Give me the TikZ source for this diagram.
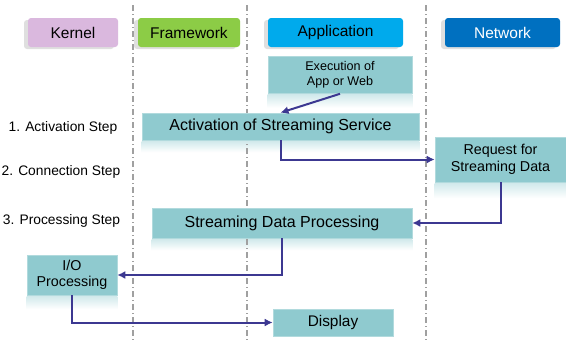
\documentclass[tikz,border=0pt]{standalone}
\usepackage{fontspec}
\setmainfont{Liberation Sans}
\usetikzlibrary{arrows.meta,shadows,backgrounds}
\definecolor{tealbox}{RGB}{143,202,207}
\definecolor{kernelc}{RGB}{218,184,222}
\definecolor{fwc}{RGB}{140,204,70}
\definecolor{appc}{RGB}{0,170,236}
\definecolor{netc}{RGB}{0,112,192}
\definecolor{flowc}{RGB}{60,56,145}
\definecolor{lanec}{RGB}{160,160,160}
\tikzset{
  header/.style={rectangle, rounded corners=3pt, minimum height=29pt, inner sep=0pt,
    font=\fontsize{15.5}{17}\selectfont,
    drop shadow={shadow xshift=-4pt, shadow yshift=-2pt, opacity=0.25, fill=gray}},
  stagebox/.style={rectangle, fill=tealbox, draw=tealbox!70!white, line width=0.6pt,
    inner sep=0pt, align=center},
  txs/.style={font=\fontsize{12.6}{15}\selectfont},
  txm/.style={font=\fontsize{14.3}{16.5}\selectfont},
  txl/.style={font=\fontsize{16}{18}\selectfont},
  steplabel/.style={font=\fontsize{13.8}{16}\selectfont, inner sep=0pt},
  lane/.style={lanec, line width=1.3pt, dash pattern=on 6pt off 3pt on 1pt off 3pt},
  flow/.style={flowc, line width=2pt, -{Latex[length=8pt,width=8pt]}},
  glow/.style={top color=tealbox!40, bottom color=white, draw=none}
}
\begin{document}
\begin{tikzpicture}[x=1pt,y=-1pt]
\useasboundingbox (0,0) rectangle (566,343);

% lane headers
\node[header, fill=kernelc, minimum width=90pt] (kernel) at (73,32.5) {Kernel};
\node[header, fill=fwc, minimum width=102pt] (framework) at (189,32.5) {Framework};
\node[header, fill=appc, minimum width=135pt] (application) at (335.5,32.5) {Application};
\node[header, fill=netc, text=white, minimum width=115pt] (network) at (502.5,32.5) {Network};

% step labels
\node[steplabel] (s1) at (63,128) {1. Activation Step};
\node[steplabel] (s2) at (61,172) {2. Connection Step};
\node[steplabel] (s3) at (61.5,221) {3. Processing Step};

% stage boxes
\node[stagebox, txs, minimum width=144pt, minimum height=37pt] (exec) at (340,75) {Execution of\\App or Web};
\node[stagebox, txl, minimum width=277pt, minimum height=27pt] (act) at (280.5,126.5) {Activation of Streaming Service};
\node[stagebox, txm, minimum width=131pt, minimum height=45pt] (req) at (500.5,159.5) {Request for\\Streaming Data};
\node[stagebox, txl, minimum width=260pt, minimum height=30pt] (proc) at (282,223) {Streaming Data Processing};
\node[stagebox, txm, minimum width=90pt, minimum height=40pt] (io) at (72,275) {I/O\\Processing};
\node[stagebox, font=\fontsize{15.4}{17}\selectfont, minimum width=120pt, minimum height=27pt] (disp) at (333,322.5) {Display};

% page background and soft reflections under the boxes
\begin{scope}[on background layer]
\fill[white] (0,0) rectangle (566,343);
\shade[glow] ([yshift=-1pt]exec.south west) rectangle ([yshift=-14pt]exec.south east);
\shade[glow] ([yshift=-1pt]act.south west) rectangle ([yshift=-12pt]act.south east);
\shade[glow] ([yshift=-1pt]req.south west) rectangle ([yshift=-16pt]req.south east);
\shade[glow] ([yshift=-1pt]proc.south west) rectangle ([yshift=-12pt]proc.south east);
\shade[glow] ([yshift=-1pt]io.south west) rectangle ([yshift=-14pt]io.south east);
% lane separators
\draw[lane] (133,5) -- (133,343);
\draw[lane] (247,5) -- (247,343);
\draw[lane] (426,5) -- (426,343);
\end{scope}

% control flow
\draw[flow] (exec.south) -- (act.north);
\draw[flow] (act.south) |- (req.west);
\draw[flow] (req.south) |- (proc.east);
\draw[flow] (proc.south) |- (io.east);
\draw[flow] (io.south) |- (disp.west);
\end{tikzpicture}
\end{document}
